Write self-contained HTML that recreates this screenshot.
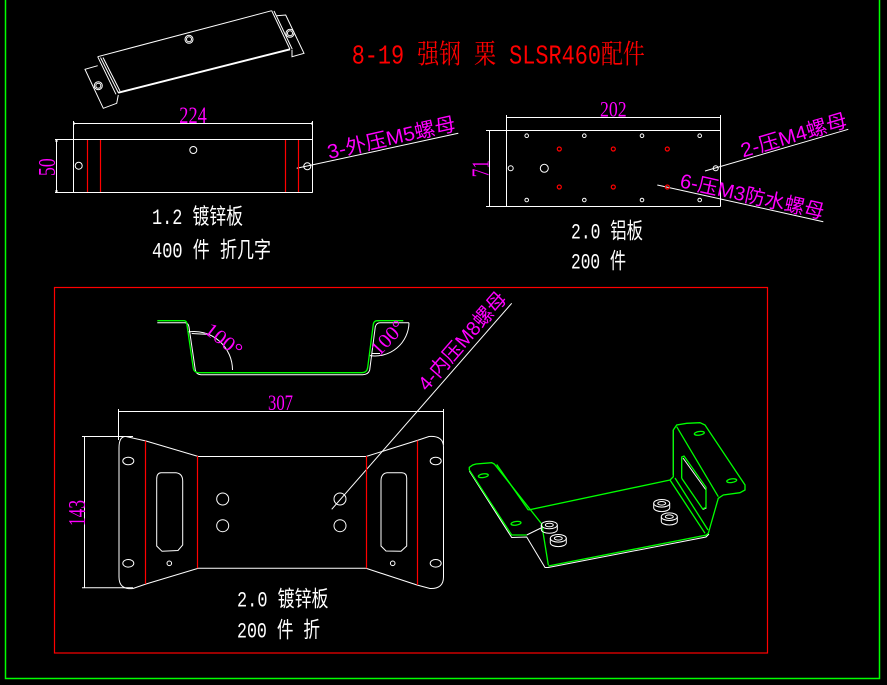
<!DOCTYPE html>
<html><head><meta charset="utf-8"><style>
html,body{margin:0;padding:0;background:#000;}
svg{display:block;}
.w{stroke:#fff;stroke-width:1;fill:none;}
.g{stroke:#00ff00;stroke-width:1.3;fill:none;}
.r{stroke:#ff0000;stroke-width:1.2;fill:none;}
.m{fill:#ff00ff;font-family:"Liberation Serif","Noto Serif CJK SC",serif;}
.ml{fill:#ff00ff;font-family:"Liberation Sans","Noto Sans CJK SC",sans-serif;}
.c{fill:#fff;font-family:"Liberation Mono","Noto Sans CJK SC",monospace;}
</style></head><body>
<svg width="887" height="685" viewBox="0 0 887 685" xmlns="http://www.w3.org/2000/svg">
<defs>
<g id="nut" fill="none" stroke="#fff" stroke-width="1">
<ellipse cx="0" cy="0" rx="8" ry="3.8"/>
<ellipse cx="0" cy="0" rx="4" ry="1.8"/>
<path d="M-8,0 L-8,4.5 A8,3.8 0 0 0 8,4.5 L8,0"/>
</g>
</defs>
<rect width="887" height="685" fill="#000"/>
<!-- outer green frame -->
<polyline points="5.5,0 5.5,678.5 879.5,678.5 879.5,0" stroke="#00ff00" stroke-width="1.5" fill="none"/>
<!-- red inner rectangle -->
<rect x="54.5" y="287.5" width="713" height="365.5" stroke="#ff0000" stroke-width="1.2" fill="none"/>

<!-- Title -->
<text x="351.7" y="63.5" font-size="27" textLength="293" lengthAdjust="spacingAndGlyphs" fill="#ff0000" font-family="'Liberation Mono','Noto Serif CJK SC',serif">8-19 强钢 栗 SLSR460配件</text>

<!-- ===== Top-left 3D part ===== -->
<g class="w" stroke-width="1.2">
<line x1="97.7" y1="56.7" x2="271.7" y2="10.7"/>
<line x1="118.3" y1="92.7" x2="290" y2="49.3" stroke-width="2"/>
<line x1="97.7" y1="56.7" x2="116" y2="94.3"/>
<line x1="100.5" y1="57.5" x2="118.5" y2="93"/>
<line x1="103" y1="57.5" x2="120" y2="91"/>
<line x1="271.7" y1="10.7" x2="290" y2="49.3"/>
<line x1="274" y1="11" x2="292.3" y2="49.3"/>
<polyline points="276.7,15.7 285.7,15 304,53.3 292,56.7 292,50"/>
<polyline points="97.7,65.7 85,69.3 103.3,108.3 116.7,103.3 118.3,95"/>
<circle cx="189" cy="39.3" r="4"/><circle cx="189" cy="39.3" r="2.5"/>
<circle cx="98.3" cy="85.7" r="4"/><circle cx="98.3" cy="85.7" r="2.5"/>
<circle cx="290" cy="33.3" r="4"/><circle cx="290" cy="33.3" r="2.5"/>
</g>

<!-- ===== 224 x 50 plate ===== -->
<g class="w">
<line x1="55" y1="139.5" x2="312.7" y2="139.5"/>
<line x1="55" y1="192.5" x2="312.7" y2="192.5"/>
<line x1="73.5" y1="121" x2="73.5" y2="192.5"/>
<line x1="312.5" y1="121" x2="312.5" y2="192.5"/>
<line x1="73.5" y1="123.5" x2="312.5" y2="123.5"/>
<line x1="56.5" y1="139.5" x2="56.5" y2="192.5"/>
<circle cx="78.7" cy="165.7" r="3.5"/>
<circle cx="193.3" cy="150" r="3.5"/>
<circle cx="307.3" cy="166.3" r="3.5"/>
<line x1="296.7" y1="168.3" x2="458.3" y2="133.3"/>
</g>
<rect x="73" y="122.5" width="2" height="2" fill="#fff"/><rect x="311" y="122.5" width="2" height="2" fill="#fff"/>
<rect x="55.5" y="140" width="2" height="2" fill="#fff"/><rect x="55.5" y="190" width="2" height="2" fill="#fff"/>
<g class="r">
<line x1="87.5" y1="140" x2="87.5" y2="192"/>
<line x1="100.5" y1="140" x2="100.5" y2="192"/>
<line x1="285.5" y1="140" x2="285.5" y2="192"/>
<line x1="298.5" y1="140" x2="298.5" y2="192"/>
</g>
<text class="m" x="179.3" y="123" font-size="23" textLength="27.5" lengthAdjust="spacingAndGlyphs">224</text>
<text class="m" transform="translate(55,176) rotate(-90)" font-size="24" textLength="17.7" lengthAdjust="spacingAndGlyphs">50</text>
<text class="ml" transform="translate(329,159) rotate(-12.8)" font-size="20" textLength="131" lengthAdjust="spacingAndGlyphs">3-外压M5螺母</text>
<text class="c" x="152" y="224" font-size="22" textLength="91" lengthAdjust="spacingAndGlyphs">1.2 镀锌板</text>
<text class="c" x="152" y="257.5" font-size="22" textLength="119" lengthAdjust="spacingAndGlyphs">400 件 折几字</text>

<!-- ===== 202 x 71 plate ===== -->
<g class="w">
<line x1="486" y1="130.5" x2="720.5" y2="130.5"/>
<line x1="486" y1="206.5" x2="720.5" y2="206.5"/>
<line x1="506.5" y1="115" x2="506.5" y2="206.5"/>
<line x1="720.5" y1="115" x2="720.5" y2="206.5"/>
<line x1="506.5" y1="117.5" x2="720.5" y2="117.5"/>
<line x1="489.5" y1="130.5" x2="489.5" y2="206.5"/>
<circle cx="526.7" cy="135.7" r="1.8"/><circle cx="584.3" cy="135.7" r="1.8"/><circle cx="642" cy="135.7" r="1.8"/><circle cx="699.7" cy="135.7" r="1.8"/>
<circle cx="526.7" cy="200" r="1.8"/><circle cx="584.3" cy="200" r="1.8"/><circle cx="642" cy="200" r="1.8"/><circle cx="699.7" cy="200" r="1.8"/>
<circle cx="510.7" cy="168.3" r="2.5"/>
<circle cx="544.3" cy="168.3" r="4"/>
<circle cx="715.7" cy="168.3" r="2.5"/>
<line x1="705" y1="171" x2="848.3" y2="129.3"/>
<line x1="657.3" y1="185" x2="823.3" y2="221.7"/>
</g>
<g class="r" stroke-width="1">
<circle cx="559.3" cy="149" r="2"/><circle cx="613.3" cy="149" r="2"/><circle cx="667.3" cy="149" r="2"/>
<circle cx="559.3" cy="187" r="2"/><circle cx="613.3" cy="187" r="2"/><circle cx="667.3" cy="187" r="2"/>
</g>
<text class="m" x="600" y="116.5" font-size="22" textLength="26.7" lengthAdjust="spacingAndGlyphs">202</text>
<text class="m" transform="translate(488.3,177.3) rotate(-90)" font-size="24" textLength="17.3" lengthAdjust="spacingAndGlyphs">71</text>
<text class="ml" transform="translate(743,157.5) rotate(-16.5)" font-size="20" textLength="110" lengthAdjust="spacingAndGlyphs">2-压M4螺母</text>
<text class="ml" transform="translate(679,187) rotate(12.5)" font-size="20" textLength="147" lengthAdjust="spacingAndGlyphs">6-压M3防水螺母</text>
<text class="c" x="571" y="238.5" font-size="22" textLength="72" lengthAdjust="spacingAndGlyphs">2.0 铝板</text>
<text class="c" x="571" y="268.5" font-size="22" textLength="55" lengthAdjust="spacingAndGlyphs">200 件</text>

<!-- ===== Bent profile ===== -->
<path class="w" d="M157.3,322.7 L185,322.7 Q188.5,323 189,327 L195.3,370 Q196.5,374.7 201,374.7 L362.7,374.7 Q368.5,374.5 369.7,370 L375.3,326.7 Q376.5,322.7 380,322.7 L409,322.7"/>
<path class="g" d="M157.3,320.7 L184.3,320.7 Q187,321 187,325 L193.3,368.3 Q194,372.7 199.3,372.7 L361.7,372.7 Q367,372.7 367.7,367.3 L373.3,324.3 Q374,320.7 377.3,320.7 L403.3,320.7"/>
<g class="w">
<path d="M188.6,331.9 A38.5,38.5 0 0 1 232.5,370"/>
<line x1="191.7" y1="333.5" x2="210" y2="334.5"/>
<path d="M409,322.7 A34,34 0 0 1 369.9,355.6"/>
<line x1="371.7" y1="353.5" x2="380" y2="353.5"/>
<line x1="511.7" y1="303.3" x2="331.7" y2="509.3"/>
</g>
<text class="m" transform="translate(203,332) rotate(38)" font-size="20" textLength="42" lengthAdjust="spacingAndGlyphs">100°</text>
<text class="m" transform="translate(379,357) rotate(-47)" font-size="20" textLength="40" lengthAdjust="spacingAndGlyphs">100°</text>
<text class="ml" transform="translate(427,392) rotate(-49)" font-size="20" textLength="123" lengthAdjust="spacingAndGlyphs">4-内压M8螺母</text>

<!-- ===== Flat pattern 307 x 143 ===== -->
<g class="w">
<line x1="118.5" y1="411.5" x2="443.5" y2="411.5"/>
<line x1="118.5" y1="409" x2="118.5" y2="440"/>
<line x1="443.5" y1="409" x2="443.5" y2="445"/>
<line x1="84.5" y1="436.7" x2="84.5" y2="587.7"/>
<line x1="82" y1="436.5" x2="133" y2="436.5"/>
<line x1="82" y1="587.7" x2="133" y2="587.7"/>
<path d="M126,436.5 L146,441 L198.3,456.5 L366,456.5 L417,440.5 L429,436.5 Q443.5,435.5 443.5,447 L443.5,577 Q443.5,589 430,588.5 L417,585 L366,568.3 L198.3,568.3 L146,584 L133,588.5 Q119,590 119,577 L119,448 Q119,436 126,436.5 Z"/>
<ellipse cx="128.3" cy="461" rx="5.5" ry="3.8"/>
<ellipse cx="128.3" cy="563.3" rx="5.5" ry="3.8"/>
<ellipse cx="435.7" cy="461" rx="5.5" ry="3.8"/>
<ellipse cx="435.7" cy="563.3" rx="5.5" ry="3.8"/>
<path d="M161,472.7 L176,472.7 Q182.7,473.5 182.7,481 L182.7,545 L178,550.5 L162,551.3 L156.7,546 L156.7,479 Q156.7,473 161,472.7 Z"/>
<path d="M387,472.7 L402,472.7 Q406.7,473 406.7,478 L406.7,546 L401,551.3 L386,551 L381,546 L381,481 Q381,473.5 387,472.7 Z"/>
<circle cx="169.3" cy="563.3" r="2.3"/>
<circle cx="392.7" cy="563.3" r="2.3"/>
<circle cx="222.7" cy="499" r="6"/>
<circle cx="222.7" cy="525.7" r="6"/>
<circle cx="340" cy="499" r="6"/>
<circle cx="340" cy="525.7" r="6"/>
</g>
<g class="r">
<line x1="145.5" y1="440.7" x2="145.5" y2="584"/>
<line x1="197.5" y1="456" x2="197.5" y2="568.3"/>
<line x1="366.5" y1="456" x2="366.5" y2="568.3"/>
<line x1="417.5" y1="440.5" x2="417.5" y2="585"/>
</g>
<text class="m" x="268" y="410" font-size="22" textLength="25" lengthAdjust="spacingAndGlyphs">307</text>
<text class="m" transform="translate(85,526) rotate(-90)" font-size="24" textLength="26" lengthAdjust="spacingAndGlyphs">143</text>
<text class="c" x="237" y="606.5" font-size="22" textLength="91.5" lengthAdjust="spacingAndGlyphs">2.0 镀锌板</text>
<text class="c" x="237" y="637.5" font-size="22" textLength="83" lengthAdjust="spacingAndGlyphs">200 件 折</text>

<!-- ===== 3D bracket bottom-right ===== -->
<g class="w" stroke-width="1.2">
<polyline points="469.3,471 511.7,537.5 526.7,537 545,567.5 548.3,567.5 706,537 709,534"/>
<line x1="526.7" y1="535" x2="541" y2="528"/>
<line x1="673.3" y1="430" x2="673.3" y2="475"/>
<polyline points="683,458 706,490 706,508 702.7,509.5"/>
</g>
<g class="g">
<polyline points="469.3,470 469.3,467.3 472.7,465 476,464 491.7,462.7 494.3,464 541.7,524 548.3,565"/>
<polyline points="469.3,470 511.7,535 526.7,535"/>
<line x1="496.7" y1="464.5" x2="528.3" y2="510"/>
<line x1="528.3" y1="510" x2="670" y2="480"/>
<line x1="548.3" y1="566" x2="706.7" y2="535"/>
<polyline points="670,480 673.3,476.7 673.3,430 676.7,425 686.7,423.3 700,422.7 705,425 745,485 745,490 740,492.7 723.3,495 718.3,498.3 708.3,533.3 705,536"/>
<line x1="676.7" y1="426.7" x2="718.3" y2="496.7"/>
<line x1="670" y1="480" x2="705" y2="533.3"/>
<line x1="675" y1="478" x2="708" y2="530"/>
<polyline points="681.7,478.3 681.7,457 684,456 706,487.3 706,507.3 702.7,509 681.7,478.3"/>
<ellipse cx="483.3" cy="475.7" rx="5" ry="1.8" transform="rotate(-8 483.3 475.7)"/>
<ellipse cx="516" cy="523.3" rx="5" ry="1.8" transform="rotate(-8 516 523.3)"/>
<ellipse cx="699.3" cy="433.3" rx="5" ry="1.8" transform="rotate(-8 699.3 433.3)"/>
<ellipse cx="731.7" cy="480.7" rx="5" ry="1.8" transform="rotate(-8 731.7 480.7)"/>
</g>
<use href="#nut" transform="translate(549.3,525)"/>
<use href="#nut" transform="translate(558.3,538.3)"/>
<use href="#nut" transform="translate(661.7,503.3)"/>
<use href="#nut" transform="translate(669.3,516.7)"/>
</svg>
</body></html>
